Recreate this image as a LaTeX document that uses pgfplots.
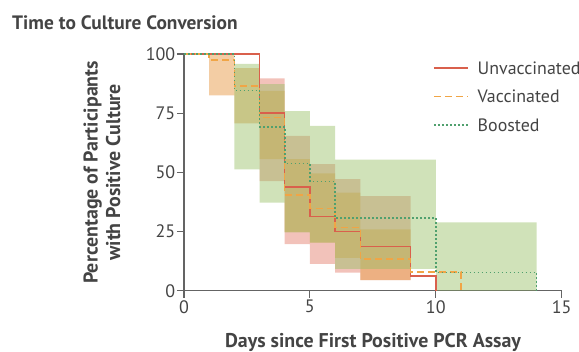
\documentclass[border=0pt]{standalone}
\usepackage{fontspec}
\setmainfont{PT Sans}
\usepackage{pgfplots}
\pgfplotsset{compat=1.18}

\definecolor{redline}{RGB}{217,96,76}
\definecolor{orangeline}{RGB}{240,165,70}
\definecolor{greenline}{RGB}{80,160,110}
\definecolor{redband}{RGB}{225,110,90}
\definecolor{orangeband}{RGB}{232,160,80}
\definecolor{greenband}{RGB}{150,190,100}
\definecolor{axisgray}{RGB}{100,100,100}
\definecolor{textgray}{RGB}{68,68,68}

\begin{document}
\begin{tikzpicture}
\useasboundingbox (0,0) rectangle (579bp,352bp);
\begin{axis}[
  at={(184bp,61.3bp)}, anchor=south west,
  scale only axis, width=377.7bp, height=236.7bp,
  xmin=0, xmax=15, ymin=0, ymax=100,
  axis x line*=bottom, axis y line*=left,
  axis line style={-, axisgray, line width=1.3bp},
  xtick={0,5,10,15}, ytick={0,25,50,75,100},
  tick align=outside, major tick length=7bp,
  tick style={axisgray, line width=1.1bp},
  /pgf/number format/assume math mode=true,
  ticklabel style={font=\fontsize{18bp}{21bp}\selectfont, text=textgray},
  yticklabel style={inner sep=1.5bp},
  xticklabel style={inner sep=2.5bp},
  clip=false,
  every axis title shift=0pt,
  title={Time to Culture Conversion},
  title style={at={(axis description cs:-0.4554,1.1014)}, anchor=base west,
    font=\bfseries\fontsize{19.4bp}{22bp}\selectfont, text=textgray, inner sep=0pt},
  xlabel={Days since First Positive PCR Assay},
  xlabel style={at={(axis description cs:0.5004,-0.2385)}, anchor=base,
    font=\bfseries\fontsize{19.9bp}{23bp}\selectfont, text=textgray, inner sep=0pt},
  ylabel={Percentage of Participants\\with Positive Culture},
  ylabel style={at={(axis description cs:-0.217,0.5)}, anchor=center, align=center,
    font=\bfseries\fontsize{19.9bp}{22.5bp}\selectfont, text=textgray, inner sep=0pt},
  legend style={at={(axis cs:9.893,96.8)}, anchor=north west, draw=none, fill=none,
    inner sep=0pt, outer sep=0pt, row sep=16.2bp, column sep=9bp,
    font=\fontsize{17.9bp}{20bp}\selectfont, text=textgray,
    nodes={inner sep=0pt, text height=12.5bp, text depth=0pt}},
  legend cell align=left,
  legend image code/.code={\draw[#1] (0bp,0bp) -- (34bp,0bp);},
]
% confidence bands
\addplot[draw=none, fill=redband, fill opacity=0.42, forget plot] coordinates {
 (3,89.7) (4,89.7) (4,65.4) (5,65.4) (5,53.5) (6,53.5) (6,47.1) (7,47.1) (7,40.0) (9,40.0)
 (9,4.5) (7,4.5) (7,7.6) (6,7.6) (6,11.3) (5,11.3) (5,19.7) (4,19.7) (4,46.3) (3,46.3)} -- cycle;
\addplot[draw=none, fill=orangeband, fill opacity=0.52, forget plot] coordinates {
 (1,100) (2,100) (2,94.0) (3,94.0) (3,84.4) (4,84.4) (4,55.6) (5,55.6) (5,49.6) (6,49.6)
 (6,41.4) (7,41.4) (7,25.9) (9,25.9)
 (9,4.5) (7,4.5) (7,13.9) (6,13.9) (6,20.3) (5,20.3) (5,24.7) (4,24.7) (4,55.6) (3,55.6)
 (3,70.7) (2,70.7) (2,82.5) (1,82.5)} -- cycle;
\addplot[draw=none, fill=greenband, fill opacity=0.45, forget plot] coordinates {
 (2,95.8) (3,95.8) (3,87.3) (4,87.3) (4,75.9) (5,75.9) (5,69.6) (6,69.6) (6,55.4) (10,55.4)
 (10,28.9) (14,28.9) (14,0) (10,0) (10,9.2) (6,9.2) (6,20.3) (5,20.3) (5,24.6) (4,24.6)
 (4,37.2) (3,37.2) (3,51.3) (2,51.3)} -- cycle;
% step curves
\addplot[const plot, redline, line width=1.5bp] coordinates {
 (0,100) (3,75) (4,43.75) (5,31.25) (6,25) (7,18.75) (9,6.25) (10,0)};
\addlegendentry{Unvaccinated}
\addplot[const plot, orangeline, line width=1.5bp, dash pattern=on 7bp off 4bp] coordinates {
 (0,100) (1,97.5) (2,86.4) (3,73.1) (4,40.4) (5,34.8) (6,26.8) (7,13.4) (9,7.8) (11,0)};
\addlegendentry{Vaccinated}
\addplot[const plot, greenline, line width=1.6bp, dash pattern=on 1.6bp off 2.4bp] coordinates {
 (0,100) (2,84.6) (3,69.2) (4,53.8) (5,46.2) (6,30.8) (10,7.7) (14,0)};
\addlegendentry{Boosted}
\end{axis}
\end{tikzpicture}
\end{document}
